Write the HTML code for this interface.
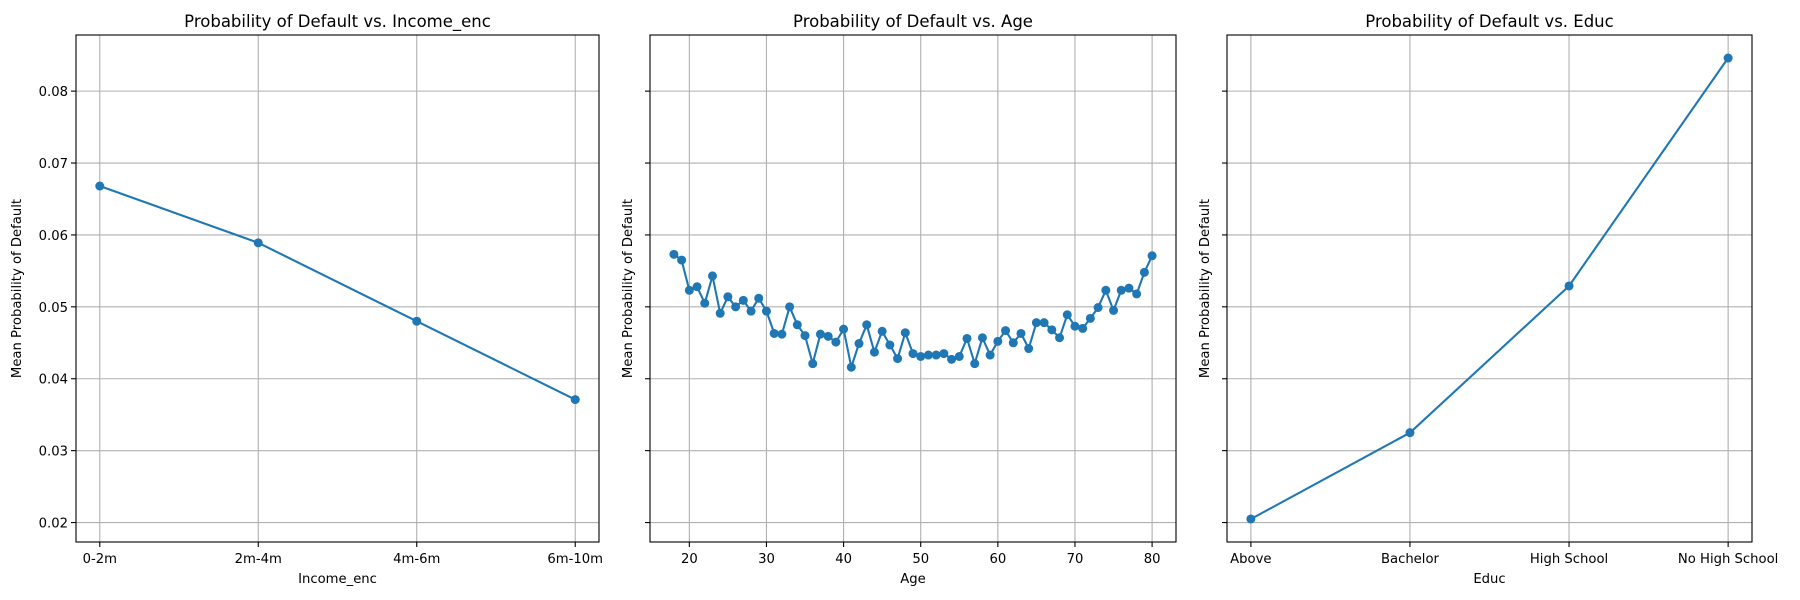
<!DOCTYPE html>
<html><head><meta charset="utf-8"><style>
html,body{margin:0;padding:0;background:#fff;}
svg{display:block;font-family:"DejaVu Sans","Liberation Sans",sans-serif;}
</style></head><body>
<svg id="fig" width="1800" height="600" viewBox="0 0 1800 600" xmlns="http://www.w3.org/2000/svg"></svg>
<script>
const incomeCats = ["0-2m","2m-4m","4m-6m","6m-10m"];
const incomeVals = [0.0668,0.0589,0.0480,0.0371];
const ageVals18to80 = [0.0573,0.0565,0.0523,0.0528,0.0505,0.0543,0.0491,0.0514,0.0500,0.0509,0.0494,0.0512,0.0494,0.0463,0.0462,0.0500,0.0475,0.0460,0.0421,0.0462,0.0459,0.0451,0.0469,0.0416,0.0449,0.0475,0.0437,0.0466,0.0447,0.0428,0.0464,0.0435,0.0431,0.0433,0.0433,0.0435,0.0427,0.0431,0.0456,0.0421,0.0457,0.0433,0.0452,0.0467,0.0450,0.0463,0.0442,0.0478,0.0478,0.0468,0.0457,0.0489,0.0473,0.0470,0.0484,0.0499,0.0523,0.0495,0.0523,0.0526,0.0518,0.0548,0.0571];
const ageTicks = [20,30,40,50,60,70,80];
const educCats = ["Above","Bachelor","High School","No High School"];
const educVals = [0.0205,0.0325,0.0529,0.0846];
const yTicks = [0.02,0.03,0.04,0.05,0.06,0.07,0.08];
const titles = ["Probability of Default vs. Income_enc","Probability of Default vs. Age","Probability of Default vs. Educ"];
const xLabels = ["Income_enc","Age","Educ"];

const NS="http://www.w3.org/2000/svg";
const svg=document.getElementById('fig');
function mk(tag,attrs,parent){const e=document.createElementNS(NS,tag);for(const k in attrs)e.setAttribute(k,attrs[k]);(parent||svg).appendChild(e);return e;}
const TOP=35,BOT=542;
const allVals=[...incomeVals,...ageVals18to80,...educVals];
const dmin=Math.min(...allVals),dmax=Math.max(...allVals),pad=(dmax-dmin)*0.05;
const ymin=dmin-pad,ymax=dmax+pad;
function yS(v){return BOT-(v-ymin)/(ymax-ymin)*(BOT-TOP);}
const axesPos=[[76,599],[650,1176],[1227,1752]];
const ages=ageVals18to80.map((_,i)=>18+i);

function panel(idx,xs,vals,xmin,xmax,tickVals,tickLabels){
  const [L,R]=axesPos[idx];
  const g=mk('g',{});
  
  
  const xS=v=>L+(v-xmin)/(xmax-xmin)*(R-L);
  tickVals.forEach(t=>{const l=mk('line',{x1:xS(t),x2:xS(t),y1:TOP,y2:BOT,stroke:'#b0b0b0','stroke-width':1.1},g);
    });
  yTicks.forEach(t=>{const l=mk('line',{x1:L,x2:R,y1:yS(t),y2:yS(t),stroke:'#b0b0b0','stroke-width':1.1},g);
    });
  const pts=xs.map((x,i)=>xS(x).toFixed(1)+','+yS(vals[i]).toFixed(1)).join(' ');
  const pl=mk('polyline',{points:pts,fill:'none',stroke:'#1f77b4','stroke-width':2.1,'stroke-linejoin':'round'},g);
  
  xs.forEach((x,i)=>{const c=mk('circle',{cx:xS(x),cy:yS(vals[i]),r:4.5,fill:'#1f77b4'},g);
    });
  const fr=mk('rect',{x:L,y:TOP,width:R-L,height:BOT-TOP,fill:'none',stroke:'#000','stroke-width':1.1},g);
  
  tickVals.forEach((t,i)=>{mk('line',{x1:xS(t),x2:xS(t),y1:BOT,y2:BOT+5,stroke:'#000','stroke-width':1.1},g);
    const tx=mk('text',{x:xS(t),y:BOT+21,'text-anchor':'middle','font-size':13.2,fill:'#000'},g);
    tx.textContent=tickLabels[i];
    });
  yTicks.forEach(t=>{mk('line',{x1:L-5,x2:L,y1:yS(t),y2:yS(t),stroke:'#000','stroke-width':1.1},g);
    if(idx===0){const tx=mk('text',{x:L-8,y:yS(t)+5,'text-anchor':'end','font-size':13.2,fill:'#000'},g);
      tx.textContent=t.toFixed(2);
      }});
  const ylx=idx===0?21:L-18;
  const yl=mk('text',{x:ylx,y:(TOP+BOT)/2,'text-anchor':'middle','font-size':13.2,transform:`rotate(-90 ${ylx} ${(TOP+BOT)/2})`},g);
  yl.textContent='Mean Probability of Default';
  
  const xl=mk('text',{x:(L+R)/2,y:583,'text-anchor':'middle','font-size':13.2},g);
  xl.textContent=xLabels[idx];
  
  const ti=mk('text',{x:(L+R)/2,y:27,'text-anchor':'middle','font-size':16.5},g);
  ti.textContent=titles[idx];
  
}
const ii=incomeCats.map((_,i)=>i);
panel(0,ii,incomeVals,-0.15,3.15,ii,incomeCats);
const amin=Math.min(...ages),amax=Math.max(...ages),ap=(amax-amin)*0.05;
panel(1,ages,ageVals18to80,amin-ap,amax+ap,ageTicks,ageTicks.map(String));
const ei=educCats.map((_,i)=>i);
panel(2,ei,educVals,-0.15,3.15,ei,educCats);
</script>
</body></html>
